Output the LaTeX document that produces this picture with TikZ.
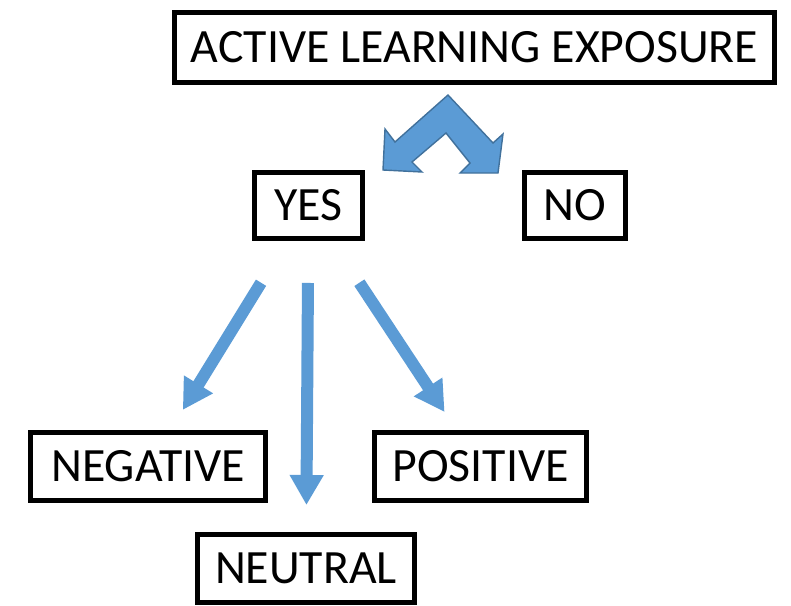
\documentclass[tikz,border=0pt]{standalone}
\usepackage{fontspec}
\setmainfont{Carlito}
\usetikzlibrary{positioning, arrows.meta}
\definecolor{arrowblue}{HTML}{5B9BD5}
\definecolor{arrowedge}{HTML}{41719C}

\begin{document}
\begin{tikzpicture}[
x=0.025cm, y=-0.025cm,
mybox/.style={rectangle,
  draw=black,
  line width=3.5pt,
  inner sep=0pt,
  minimum height=1.7cm,
  font=\fontsize{34}{40}\selectfont
},
myarrow/.style={draw=arrowblue,
  line width=0.3cm,
  -{Triangle[width=0.8cm,length=0.75cm]}
}
]
\useasboundingbox (0,0) rectangle (791,606);

\node[mybox, minimum width=15cm, minimum height=1.75cm] (top) at (474.5,47.5)
    {ACTIVE LEARNING EXPOSURE};
\node[mybox, minimum width=2.7cm, minimum height=1.65cm] (yes) at (308.5,205.5)
    {YES};
\node[mybox, minimum width=2.525cm, minimum height=1.65cm, right=3.925cm of yes] (no)
    {NO};
\node[mybox, minimum width=5.875cm] (neg) at (148,466.5)
    {NEGATIVE};
\node[mybox, minimum width=5.3cm, right=2.6cm of neg] (pos)
    {POSITIVE};
\node[mybox, minimum width=5.425cm] (neu) at (306,568.5)
    {NEUTRAL};

% split arrow under the title
\filldraw[fill=arrowblue, draw=arrowedge, line width=1pt]
    (383,170) -- (385,129) -- (395,142) -- (448,95) -- (493,143) -- (503,134)
    -- (498,173) -- (460,173) -- (470,163) -- (446,133) -- (412,162) -- (422,172) -- cycle;

\draw[myarrow, shorten <=1.225cm, shorten >=0.59cm] (yes) -- (neg);
\draw[myarrow, shorten <=1.05cm, shorten >=0.675cm] (yes) -- (neu);
\draw[myarrow, shorten <=1.25cm, shorten >=0.54cm] (yes) -- (pos);
\end{tikzpicture}
\end{document}
